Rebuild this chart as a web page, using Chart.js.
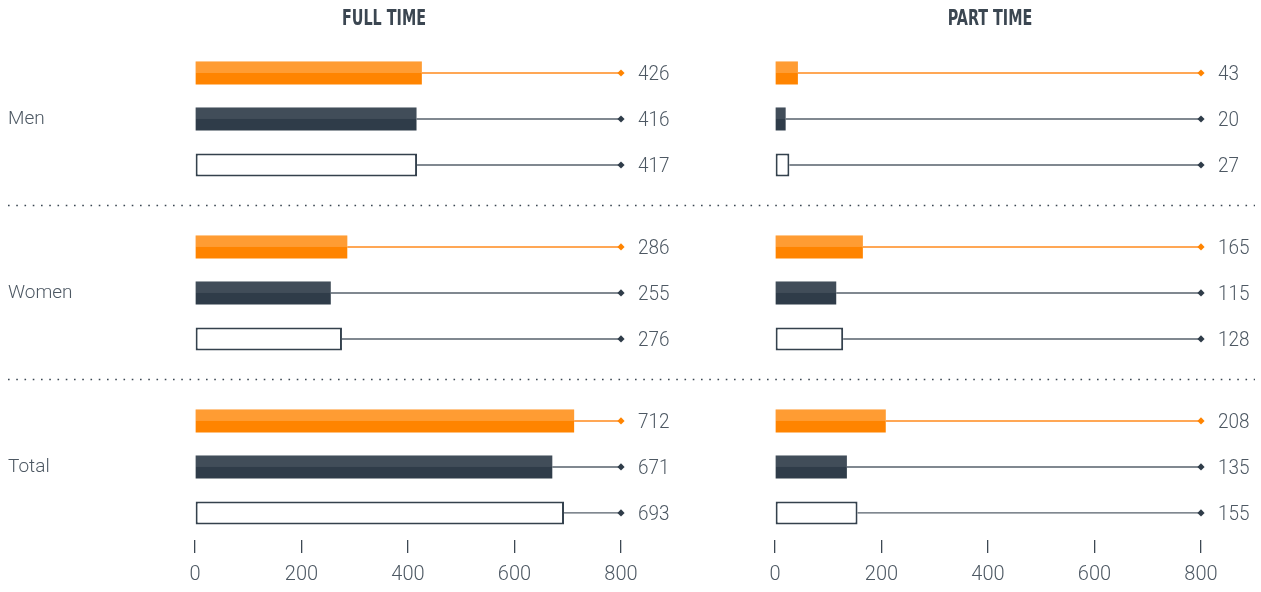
<!DOCTYPE html>
<html>
<head>
<meta charset="utf-8">
<script src="https://cdn.jsdelivr.net/npm/chart.js@4.4.1/dist/chart.umd.min.js"></script>
<style>
  html, body { margin: 0; padding: 0; background: #ffffff; width: 1261px; height: 592px; overflow: hidden; }
  #wrap { position: relative; width: 1261px; height: 592px; }
  canvas { position: absolute; top: 0; }
  #fullCanvas { left: 0; }
  #partCanvas { left: 700px; }
  .ttl {
    position: absolute; top: 8px; margin: 0;
    font: bold 21px/21px 'DejaVu Sans Condensed', 'DejaVu Sans', sans-serif;
    color: #3b4651; white-space: nowrap;
    transform: translateX(-50%) scaleX(0.76);
  }
</style>
</head>
<body>
<div id="wrap">
  <canvas id="fullCanvas" width="700" height="592"></canvas>
  <canvas id="partCanvas" width="561" height="592"></canvas>
  <div class="ttl" style="left:384px">FULL TIME</div>
  <div class="ttl" style="left:990px">PART TIME</div>
</div>
<script>
// Row groups and axis ticks
const categories = ['Men', 'Women', 'Total'];
const xTicks = [0, 200, 400, 600, 800];

// Full-time headcounts per group (three series)
const fullTimeFirst  = [426, 286, 712];
const fullTimeSecond = [416, 255, 671];
const fullTimeThird  = [417, 276, 693];

// Part-time headcounts per group (three series)
const partTimeFirst  = [43, 165, 208];
const partTimeSecond = [20, 115, 135];
const partTimeThird  = [27, 128, 155];

// Series styling
const seriesStyles = [
  { fill: '#ff8400', border: '#ff8400', borderWidth: 0, shade: 'rgba(255,255,255,0.20)', line: '#ff8a1c', marker: '#ff8400' },
  { fill: '#2f3c49', border: '#2f3c49', borderWidth: 0, shade: 'rgba(255,255,255,0.09)', line: '#56616b', marker: '#2f3c49' },
  { fill: '#ffffff', border: '#34414d', borderWidth: 2, shade: null, line: '#56616b', marker: '#2f3c49' }
];

const textColor = '#4d5863';
const fontFamily = "Roboto, 'Open Sans', sans-serif";
const numFont = { family: fontFamily, size: 20, weight: 300 };

// Connector lines, end markers, two-tone shading, value labels and group separators
const rowDecor = {
  id: 'rowDecor',
  beforeDatasetsDraw(chart, args, opts) {
    const { ctx } = chart;
    const xs = chart.scales.x, ys = chart.scales.y;
    const endX = xs.getPixelForValue(xs.max);

    // dotted separators between groups
    ctx.save();
    ctx.strokeStyle = '#3a4652';
    ctx.lineWidth = 1.6;
    ctx.setLineDash([1.6, 6.65]);
    ctx.lineDashOffset = opts.dashOffset || 0;
    for (let i = 0; i < categories.length - 1; i++) {
      const y = Math.round(ys.getPixelForValue(i + 0.5)) - 0.5;
      ctx.beginPath();
      ctx.moveTo(opts.sepFrom, y);
      ctx.lineTo(opts.sepTo, y);
      ctx.stroke();
    }
    ctx.restore();

    // connectors and diamonds
    chart.data.datasets.forEach((ds, k) => {
      const st = seriesStyles[k];
      chart.getDatasetMeta(k).data.forEach((bar) => {
        const { x, y } = bar.getProps(['x', 'y'], true);
        ctx.save();
        ctx.strokeStyle = st.line;
        ctx.lineWidth = 1.4;
        ctx.beginPath();
        ctx.moveTo(x, y);
        ctx.lineTo(endX, y);
        ctx.stroke();
        ctx.fillStyle = st.marker;
        ctx.beginPath();
        ctx.moveTo(endX - 3.6, y);
        ctx.lineTo(endX, y - 3.6);
        ctx.lineTo(endX + 3.6, y);
        ctx.lineTo(endX, y + 3.6);
        ctx.closePath();
        ctx.fill();
        ctx.restore();
      });
    });
  },
  afterDatasetsDraw(chart) {
    const { ctx } = chart;
    const xs = chart.scales.x;
    const endX = xs.getPixelForValue(xs.max);
    chart.data.datasets.forEach((ds, k) => {
      const st = seriesStyles[k];
      chart.getDatasetMeta(k).data.forEach((bar, i) => {
        const { x, y, base, height } = bar.getProps(['x', 'y', 'base', 'height'], true);
        if (st.shade) {
          ctx.fillStyle = st.shade;
          ctx.fillRect(base, y - height / 2, x - base, height / 2);
        }
        ctx.save();
        ctx.fillStyle = textColor;
        ctx.font = '300 21px ' + fontFamily;
        ctx.textAlign = 'left';
        ctx.textBaseline = 'middle';
        ctx.translate(endX + 17, y + 1.5);
        ctx.scale(0.9, 1);
        ctx.fillText(String(ds.data[i].x), 0, 0);
        ctx.restore();
      });
    });
  }
};

function buildPanel(canvasId, seriesList, cfg) {
  const datasets = seriesList.map((values, k) => ({
    data: values.map((v, i) => ({ x: v, y: i })),
    backgroundColor: seriesStyles[k].fill,
    borderColor: seriesStyles[k].border,
    borderWidth: seriesStyles[k].borderWidth,
    borderSkipped: false,
    categoryPercentage: 138 / 174,
    barPercentage: 0.5
  }));

  return new Chart(document.getElementById(canvasId), {
    type: 'bar',
    data: { datasets },
    options: {
      indexAxis: 'y',
      responsive: false,
      animation: false,
      events: [],
      layout: { padding: { left: cfg.padLeft, right: cfg.padRight, top: 32, bottom: 0 } },
      scales: {
        x: {
          type: 'linear',
          min: 0,
          max: 800,
          afterBuildTicks: (s) => { s.ticks = xTicks.map((v) => ({ value: v })); },
          afterFit: (s) => { s.height = 52; },
          grid: { drawOnChartArea: false, tickLength: 13, color: '#3d4853', lineWidth: 1.3 },
          border: { display: false },
          ticks: { padding: 10, color: textColor, font: numFont, maxRotation: 0 }
        },
        y: {
          type: 'linear',
          reverse: true,
          offset: false,
          min: -0.5,
          max: 2.42,
          display: cfg.showLabels,
          afterBuildTicks: (s) => { s.ticks = categories.map((c, i) => ({ value: i })); },
          afterFit: (s) => { s.width = cfg.axisWidth; },
          grid: { display: false, offset: false },
          border: { display: false },
          ticks: {
            crossAlign: 'far',
            color: textColor,
            font: { family: fontFamily, size: 19, weight: 300 },
            callback: (v) => categories[v]
          }
        }
      },
      plugins: {
        legend: { display: false },
        tooltip: { enabled: false },
        rowDecor: { sepFrom: cfg.sepFrom, sepTo: cfg.sepTo, dashOffset: cfg.dashOffset }
      }
    },
    plugins: [rowDecor]
  });
}

const dashPeriod = 1.6 + 6.65;

buildPanel('fullCanvas', [fullTimeFirst, fullTimeSecond, fullTimeThird], {
  padLeft: 8, padRight: 79, axisWidth: 187, showLabels: true,
  sepFrom: 8, sepTo: 700, dashOffset: 0
});

buildPanel('partCanvas', [partTimeFirst, partTimeSecond, partTimeThird], {
  padLeft: 75, padRight: 60, axisWidth: 0, showLabels: false,
  sepFrom: 0, sepTo: 555, dashOffset: (700 - 8) % dashPeriod
});
</script>
</body>
</html>
